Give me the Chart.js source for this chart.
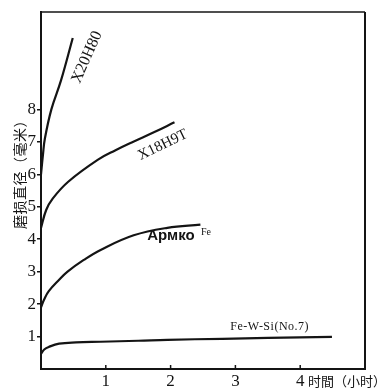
<!DOCTYPE html>
<html>
<head>
<meta charset="utf-8">
<script src="https://cdn.jsdelivr.net/npm/chart.js@4"></script>
<style>
  html, body { margin: 0; padding: 0; background: #fff; }
  #c { display: block; }
</style>
</head>
<body>
<canvas id="c" width="389" height="389"></canvas>
<script>
// Tick labels
const xTickValues = [1, 2, 3, 4];
const yTickValues = [1, 2, 3, 4, 5, 6, 7, 8];

// Wear-scar diameter (mm) against time (h), one pair of arrays per material
const x20h80Time = [0, 0.03, 0.06, 0.16, 0.31, 0.49];
const x20h80Wear = [6.0, 6.6, 7.1, 8.0, 8.9, 10.2];

const x18h9tTime = [0, 0.08, 0.18, 0.42, 0.88, 1.15, 1.4, 1.75, 2.06];
const x18h9tWear = [4.35, 4.9, 5.25, 5.77, 6.45, 6.74, 6.98, 7.3, 7.6];

const armcoTime = [0, 0.05, 0.12, 0.28, 0.41, 0.66, 0.92, 1.43, 1.95, 2.46];
const armcoWear = [1.9, 2.15, 2.4, 2.75, 3.0, 3.36, 3.67, 4.12, 4.35, 4.45];

const fewsiTime = [0, 0.05, 0.12, 0.28, 0.54, 0.92, 1.5, 1.95, 2.8, 3.5, 4.49];
const fewsiWear = [0.47, 0.6, 0.68, 0.78, 0.82, 0.84, 0.87, 0.9, 0.93, 0.96, 0.99];

const toPoints = (xs, ys) => xs.map((x, i) => ({ x: x, y: ys[i] }));

const INK = '#141414';

// Curve labels, anchored in data units
const curveLabels = [
  { text: 'Х20Н80', x: 0.71, y: 9.61, rot: -66, font: '16px "Liberation Serif"', align: 'center' },
  { text: 'Х18Н9Т', x: 1.88, y: 6.9, rot: -26, font: '15px "Liberation Serif"', align: 'center' },
  { text: 'Армко', x: 1.64, y: 4.1, rot: 0, font: 'bold 15px "Liberation Sans"', align: 'left' },
  { text: 'Fe', x: 2.47, y: 4.2, rot: 0, font: '10px "Liberation Serif"', align: 'left' },
  { text: 'Fe-W-Si(No.7)', x: 2.92, y: 1.29, rot: 0, font: '12px "Liberation Serif"', align: 'left', spacing: '0.5px' }
];

const framePlugin = {
  id: 'frameAndText',
  afterDraw(chart) {
    const ctx = chart.ctx;
    const a = chart.chartArea;
    const xs = chart.scales.x;
    const ys = chart.scales.y;
    ctx.save();
    // top and right edges of the frame
    ctx.strokeStyle = INK;
    ctx.lineWidth = 1.6;
    ctx.beginPath();
    ctx.moveTo(a.left, a.top);
    ctx.lineTo(a.right, a.top);
    ctx.stroke();
    ctx.lineWidth = 2;
    ctx.beginPath();
    ctx.moveTo(a.right, a.top);
    ctx.lineTo(a.right, a.bottom);
    ctx.stroke();
    // inward tick marks on the time axis
    ctx.lineWidth = 1.5;
    xTickValues.forEach(v => {
      const px = xs.getPixelForValue(v);
      ctx.beginPath();
      ctx.moveTo(px, a.bottom);
      ctx.lineTo(px, a.bottom - 4);
      ctx.stroke();
    });
    // curve labels
    ctx.fillStyle = INK;
    curveLabels.forEach(l => {
      ctx.save();
      ctx.translate(xs.getPixelForValue(l.x), ys.getPixelForValue(l.y));
      ctx.rotate(l.rot * Math.PI / 180);
      ctx.font = l.font;
      ctx.letterSpacing = l.spacing || '0px';
      ctx.textAlign = l.align;
      ctx.textBaseline = 'middle';
      ctx.fillText(l.text, 0, 0);
      ctx.restore();
    });
    // axis titles
    ctx.save();
    ctx.font = '14px "Noto Sans CJK SC"';
    ctx.letterSpacing = '0.5px';
    ctx.textAlign = 'center';
    ctx.textBaseline = 'middle';
    ctx.translate(19.5, 171);
    ctx.rotate(-Math.PI / 2);
    ctx.fillText('磨损直径（毫米）', 0, 0);
    ctx.restore();
    ctx.save();
    ctx.font = '13px "Noto Sans CJK SC"';
    ctx.textAlign = 'left';
    ctx.textBaseline = 'middle';
    ctx.fillText('时間（小时）', 308, 381);
    ctx.restore();
    ctx.restore();
  }
};

const lineStyle = {
  borderColor: INK,
  borderWidth: 2.2,
  pointRadius: 0,
  fill: false,
  tension: 0.4
};

new Chart(document.getElementById('c'), {
  type: 'line',
  data: {
    datasets: [
      Object.assign({ label: 'Х20Н80', data: toPoints(x20h80Time, x20h80Wear) }, lineStyle),
      Object.assign({ label: 'Х18Н9Т', data: toPoints(x18h9tTime, x18h9tWear) }, lineStyle),
      Object.assign({ label: 'Армко Fe', data: toPoints(armcoTime, armcoWear) }, lineStyle),
      Object.assign({ label: 'Fe-W-Si(No.7)', data: toPoints(fewsiTime, fewsiWear) }, lineStyle)
    ]
  },
  options: {
    responsive: false,
    animation: false,
    devicePixelRatio: 1,
    layout: { padding: { left: 0, top: 12, right: 24, bottom: 0 } },
    plugins: { legend: { display: false }, tooltip: { enabled: false } },
    scales: {
      x: {
        type: 'linear',
        min: 0,
        max: 5,
        afterBuildTicks: s => { s.ticks = xTickValues.map(v => ({ value: v })); },
        afterFit: s => { s.height = 20; },
        grid: { display: false, drawTicks: false },
        border: { display: true, color: INK, width: 2 },
        ticks: {
          color: INK,
          font: { family: 'Liberation Serif', size: 17 },
          padding: 2,
          maxRotation: 0,
          autoSkip: false
        }
      },
      y: {
        type: 'linear',
        min: 0,
        max: 11,
        afterBuildTicks: s => { s.ticks = yTickValues.map(v => ({ value: v })); },
        afterFit: s => { s.width = 41; },
        grid: { display: true, drawOnChartArea: false, drawTicks: true, tickLength: 4, color: INK, lineWidth: 1.5 },
        border: { display: true, color: INK, width: 2 },
        ticks: {
          color: INK,
          font: { family: 'Liberation Serif', size: 17 },
          padding: 1,
          autoSkip: false
        }
      }
    }
  },
  plugins: [framePlugin]
});
</script>
</body>
</html>
